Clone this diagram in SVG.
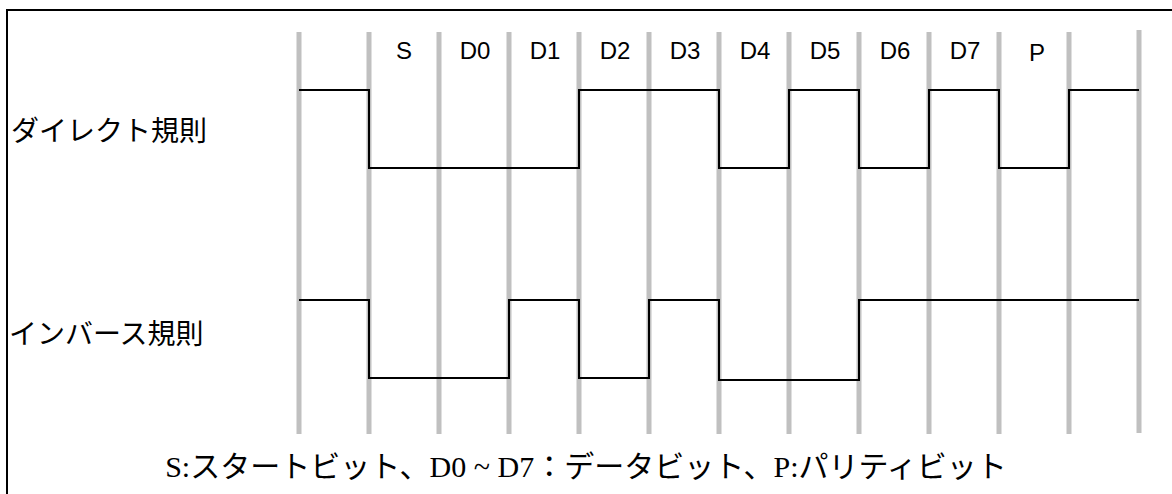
<svg xmlns="http://www.w3.org/2000/svg" width="1172" height="494" viewBox="0 0 1172 494">
<style>
.grid{stroke:#c0c0c0;stroke-width:5;fill:none}
.wave{stroke:#000;stroke-width:2;fill:none}
.hdr{font-family:"Liberation Sans",Arial,sans-serif;font-size:24px;fill:#000;text-anchor:middle}
.lbl{font-family:"Liberation Sans","Noto Sans CJK JP",sans-serif;font-size:28px;fill:#000}
.note{font-family:"Liberation Serif","Noto Sans CJK JP",serif;font-size:30px;fill:#000;text-anchor:middle}
</style>
<rect width="1172" height="494" fill="#fff"/>
<rect x="7" y="10" width="1200" height="600" fill="none" stroke="#000" stroke-width="2"/>
<g id="grid">
<line class="grid" x1="299" y1="32" x2="299" y2="434"/>
<line class="grid" x1="369" y1="32" x2="369" y2="434"/>
<line class="grid" x1="439" y1="32" x2="439" y2="434"/>
<line class="grid" x1="509" y1="32" x2="509" y2="434"/>
<line class="grid" x1="579" y1="32" x2="579" y2="434"/>
<line class="grid" x1="649" y1="32" x2="649" y2="434"/>
<line class="grid" x1="719" y1="32" x2="719" y2="434"/>
<line class="grid" x1="789" y1="32" x2="789" y2="434"/>
<line class="grid" x1="859" y1="32" x2="859" y2="434"/>
<line class="grid" x1="929" y1="32" x2="929" y2="434"/>
<line class="grid" x1="999" y1="32" x2="999" y2="434"/>
<line class="grid" x1="1069" y1="32" x2="1069" y2="434"/>
<line class="grid" x1="1139" y1="30" x2="1139" y2="433"/>
</g>
<g id="headers">
<text class="hdr" x="404" y="59">S</text>
<text class="hdr" x="475" y="59">D0</text>
<text class="hdr" x="545" y="59">D1</text>
<text class="hdr" x="615" y="59">D2</text>
<text class="hdr" x="685" y="59">D3</text>
<text class="hdr" x="755" y="59">D4</text>
<text class="hdr" x="825" y="59">D5</text>
<text class="hdr" x="895" y="59">D6</text>
<text class="hdr" x="965" y="59">D7</text>
<text class="hdr" x="1037" y="61">P</text>
</g>
<g id="direct">
<text class="lbl" x="11" y="141">ダイレクト規則</text>
<path class="wave" d="M299 90H369V168H579V90H719V168H789V90H859V168H929V90H999V168H1069V90H1139"/>
</g>
<g id="inverse">
<text class="lbl" x="9" y="344">インバース規則</text>
<path class="wave" d="M299 300H369V378H509V300H579V378H649V300H719V380H859V300H1139"/>
</g>
<g id="note">
<text class="note" x="586" y="477">S:スタートビット、D0 ~ D7：データビット、P:パリティビット</text>
</g>
</svg>
